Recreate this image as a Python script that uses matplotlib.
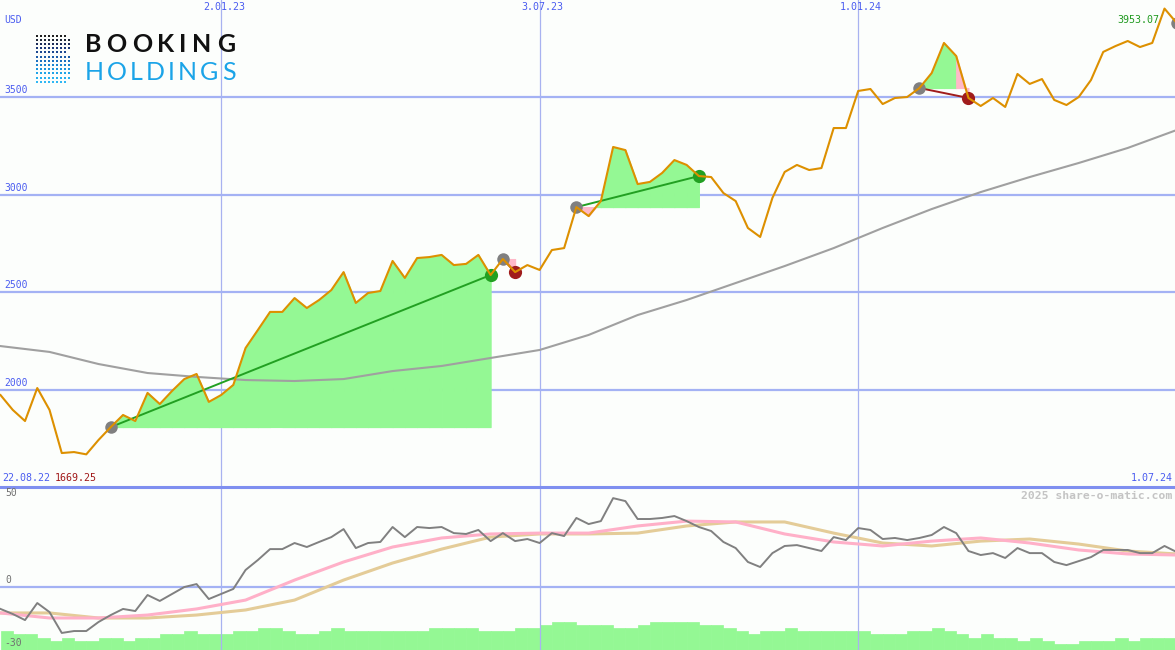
import numpy as np
import matplotlib
matplotlib.use("Agg")
import matplotlib.pyplot as plt

# weekly closes, Booking Holdings (USD)
start = np.datetime64("2022-08-29")
weeks = start + np.arange(97) * np.timedelta64(7, "D")

price = [1973, 1897, 1840, 2009, 1897, 1676, 1681, 1669.25, 1743, 1809,
         1871, 1840, 1984, 1927, 1994, 2055, 2081, 1938, 1973, 2025,
         2214, 2306, 2399, 2399, 2470, 2419, 2460, 2511, 2603, 2445,
         2496, 2506, 2660, 2573, 2675, 2680, 2691, 2639, 2645, 2691,
         2588, 2670, 2603, 2639, 2614, 2716, 2726, 2936, 2890, 2967,
         3244, 3228, 3054, 3065, 3111, 3177, 3152, 3095, 3090, 3008,
         2967, 2829, 2783, 2983, 3116, 3152, 3126, 3136, 3341, 3341,
         3531, 3541, 3464, 3495, 3500, 3546, 3623, 3777, 3710, 3495,
         3454, 3495, 3449, 3618, 3567, 3592, 3485, 3459, 3500, 3587,
         3731, 3761, 3787, 3756, 3777, 3953.07, 3879]

# long moving average, read every 4 weeks
ma_dates = weeks[::4]
ma_long = [2224, 2194, 2132, 2086, 2066, 2050, 2045, 2055, 2096, 2122,
           2163, 2204, 2281, 2383, 2460, 2547, 2634, 2726, 2829, 2926,
           3013, 3090, 3162, 3239, 3331]

# trades: entry week, exit week, win?
trade_in = [9, 41, 47, 75]
trade_out = [40, 42, 57, 79]
trade_win = [True, False, True, False]
open_pos = 96

# lower panel: oscillator + two averages + volume levels
osc = [-12.6, -15.5, -19.0, -9.2, -14.4, -26.4, -25.3, -25.3, -20.1, -16.1,
       -12.6, -13.8, -4.6, -8.0, -4.0, 0.0, 1.7, -6.9, -4.0, -1.1,
       9.8, 15.5, 21.8, 21.8, 25.3, 23.0, 25.9, 28.7, 33.3, 22.4,
       25.3, 25.9, 34.5, 28.7, 34.5, 33.9, 34.5, 31.0, 30.5, 32.8,
       26.4, 31.0, 26.4, 27.6, 25.3, 31.0, 29.3, 39.7, 36.2, 37.9,
       51.1, 49.4, 39.1, 39.1, 39.7, 40.8, 37.9, 34.5, 32.2, 25.9,
       22.4, 14.4, 11.5, 19.5, 23.6, 24.1, 22.4, 20.7, 28.7, 27.0,
       33.9, 32.8, 27.6, 28.2, 27.0, 28.2, 29.9, 34.5, 31.0, 20.7,
       18.4, 19.5, 16.7, 22.4, 19.5, 19.5, 14.4, 12.6, 14.9, 17.2,
       21.3, 21.3, 21.3, 19.5, 19.5, 23.6, 20.1]
osc_fast = [-14.9, -17.8, -17.8, -16.1, -12.6, -7.5, 4.0, 14.4, 23.0, 28.2,
            30.5, 31.0, 31.0, 35.1, 37.9, 37.4, 30.5, 25.9, 23.6, 26.4,
            28.2, 25.3, 21.3, 19.0, 18.4]
osc_slow = [-14.9, -14.9, -17.8, -17.8, -16.1, -13.2, -7.5, 4.0, 13.8, 21.8,
            28.7, 30.5, 30.5, 31.0, 35.1, 37.4, 37.4, 31.0, 25.3, 23.6,
            26.4, 27.6, 24.7, 20.7, 19.0]
volume = [6, 5, 5, 4, 3, 4, 3, 3, 4, 4, 3, 4, 4, 5, 5, 6, 5, 5, 5, 6,
          6, 7, 7, 6, 5, 5, 6, 7, 6, 6, 6, 6, 6, 6, 6, 7, 7, 7, 7, 6,
          6, 6, 7, 7, 8, 9, 9, 8, 8, 8, 7, 7, 8, 9, 9, 9, 9, 8, 8, 7,
          6, 5, 6, 6, 7, 6, 6, 6, 6, 6, 6, 5, 5, 5, 6, 6, 7, 6, 5, 4,
          5, 4, 4, 3, 4, 3, 2, 2, 3, 3, 3, 4, 3, 4, 4, 4, 4]

grid_dates = [np.datetime64("2023-01-02"), np.datetime64("2023-07-03"), np.datetime64("2024-01-01")]
grid_labels = ["2.01.23", "3.07.23", "1.01.24"]

bg = "#fcfefc"
blue_txt = "#4a5cf0"
hgrid = "#a4b2f4"
vgrid = "#a8b2f0"
orange = "#dd9000"
green_fill = "#94f894"
pink_fill = "#ffb8c8"
mono = "DejaVu Sans Mono"

price = np.array(price, dtype=float)

fig = plt.figure(figsize=(11.75, 6.5), dpi=100, facecolor=bg)
ax = fig.add_axes([0, 163 / 650, 1, 487 / 650])
ax2 = fig.add_axes([0, 0, 1, 163 / 650])
for a in (ax, ax2):
    a.set_facecolor(bg)
    for s in a.spines.values():
        s.set_visible(False)
    a.set_xticks([])
    a.set_yticks([])
    a.set_xlim(start - np.timedelta64(7, "h"), start + np.timedelta64(671, "D"))
    for d in grid_dates:
        a.axvline(d, color=vgrid, lw=0.9, zorder=0)

ax.set_ylim(1502, 3997)
ax2.set_ylim(-36.2, 57.5)
ax2.spines["top"].set_visible(True)
ax2.spines["top"].set_color("#7f8ff0")
ax2.spines["top"].set_linewidth(2.2)

# main panel grid + labels
for v in [2000, 2500, 3000, 3500]:
    ax.axhline(v, color=hgrid, lw=1.6, zorder=0)
    ax.annotate(str(v), xy=(0, v), xycoords=("axes fraction", "data"), xytext=(3, 1.5),
                textcoords="offset points", ha="left", va="bottom", color=blue_txt,
                fontsize=7, family=mono)
ax.text(0.004, 0.958, "USD", transform=ax.transAxes, color=blue_txt, fontsize=7, family=mono,
        ha="left", va="center")
for d, lab in zip(grid_dates, grid_labels):
    ax.annotate(lab, xy=(d, 1), xycoords=("data", "axes fraction"), xytext=(2, -1.5),
                textcoords="offset points", ha="center", va="top", color=blue_txt,
                fontsize=7.2, family=mono)
ax.text(0.002, 0.018, "22.08.22", transform=ax.transAxes, color=blue_txt, fontsize=7.2,
        family=mono, ha="left", va="center")
ax.text(0.047, 0.018, "%.2f" % price.min(), transform=ax.transAxes, color="#a01818",
        fontsize=7.2, family=mono, ha="left", va="center")
ax.text(0.998, 0.018, "1.07.24", transform=ax.transAxes, color=blue_txt, fontsize=7.2,
        family=mono, ha="right", va="center")
ax.annotate("%.2f" % price.max(), xy=(weeks[price.argmax()], price.max()), xytext=(-4, -8),
            textcoords="offset points", ha="right", va="center", color="#209a20",
            fontsize=7.2, family=mono)

# trade fills, lines, markers
for a_i, b_i, win in zip(trade_in, trade_out, trade_win):
    entry = price[a_i]
    for i in range(a_i, b_i):
        xs = weeks[i:i + 2]
        ys = price[i:i + 2]
        if ys[1] < entry:
            ax.fill_between(xs, ys, entry, color=pink_fill, ec=pink_fill, lw=0.8, zorder=1)
        else:
            ax.fill_between(xs, ys, entry, where=ys >= entry, interpolate=True,
                            color=green_fill, ec=green_fill, lw=0.8, zorder=1)
            ax.fill_between(xs, ys, entry, where=ys < entry, interpolate=True,
                            color=pink_fill, ec=pink_fill, lw=0.8, zorder=1)
    col = "#22a022" if win else "#a01c1c"
    ax.plot([weeks[a_i], weeks[b_i]], [price[a_i], price[b_i]], color=col, lw=1.4, zorder=3)
    ax.plot(weeks[a_i], price[a_i], "o", color="#808080", ms=9, mew=0, zorder=4)
    ax.plot(weeks[b_i], price[b_i], "o", color=col, ms=9.5, mew=0, zorder=4)
ax.plot(weeks[open_pos], price[open_pos], "o", color="#808080", ms=9, mew=0, zorder=4)

ax.plot(ma_dates, ma_long, color="#a0a0a0", lw=1.5, zorder=2)
ax.plot(weeks, price, color=orange, lw=1.5, zorder=5)

# lower panel
ax2.axhline(0, color=hgrid, lw=1.6, zorder=0)
vax = ax2.twinx()
vax.set_ylim(0, 52.2)
vax.set_yticks([])
for s in vax.spines.values():
    s.set_visible(False)
vax.bar(weeks, volume, width=np.timedelta64(7, "D"), align="edge", color=green_fill,
        ec=green_fill, lw=0.5, zorder=1)
ax2.set_zorder(vax.get_zorder() + 1)
ax2.patch.set_visible(False)
vax.patch.set_facecolor(bg)
vax.patch.set_visible(True)

ax2.plot(ma_dates, osc_slow, color="#e4cc98", lw=2.2, zorder=2)
ax2.plot(ma_dates, osc_fast, color="#ffb0c8", lw=2.2, zorder=3)
ax2.plot(weeks, osc, color="#808080", lw=1.4, zorder=4)

for v, lab in [(50, "50"), (0, "0")]:
    ax2.annotate(lab, xy=(0, v), xycoords=("axes fraction", "data"), xytext=(4, 1.5),
                 textcoords="offset points", ha="left", va="bottom", color="#707070",
                 fontsize=7, family=mono)
ax2.text(0.004, 0.045, "-30", transform=ax2.transAxes, color="#707070", fontsize=7,
         family=mono, ha="left", va="center")
ax2.text(0.998, 0.945, "2025 share-o-matic.com", transform=ax2.transAxes, color="#c4c4c4",
         fontsize=8.2, family=mono, weight="bold", ha="right", va="center")

# logo
lg = fig.add_axes([0, 0, 1, 1], zorder=10)
lg.set_xlim(0, 1175)
lg.set_ylim(650, 0)
lg.axis("off")
row_len = [8, 9, 9, 9, 8, 9, 9, 9, 9, 9, 9, 8]
row_col = ["#202020", "#202838", "#1c2c58", "#1c3878", "#1c4890", "#1c5ca8",
           "#1c70c0", "#1c84d0", "#1c94dc", "#20a4e8", "#28b0f0", "#30b8f4"]
for r, (n, c) in enumerate(zip(row_len, row_col)):
    xs = 36.5 + 4 * np.arange(n)
    lg.scatter(xs, np.full(n, 35.5 + r * 4.2), s=4.5, marker="s", color=c, lw=0)
for ch, cx in zip("BOOKING", [93, 116.5, 142.5, 166, 183, 202, 226]):
    lg.text(cx, 45, ch, ha="center", va="center", fontsize=18,
            family="Lato", weight="bold", color="#111111")
for ch, cx in zip("HOLDINGS", [94, 117, 136.5, 155.5, 171.5, 187.5, 209, 228.5]):
    lg.text(cx, 72, ch, ha="center", va="center", fontsize=18,
            family="Lato", weight="normal", color="#1ba4e8")

fig.savefig("out.png", dpi=100, facecolor=bg)
